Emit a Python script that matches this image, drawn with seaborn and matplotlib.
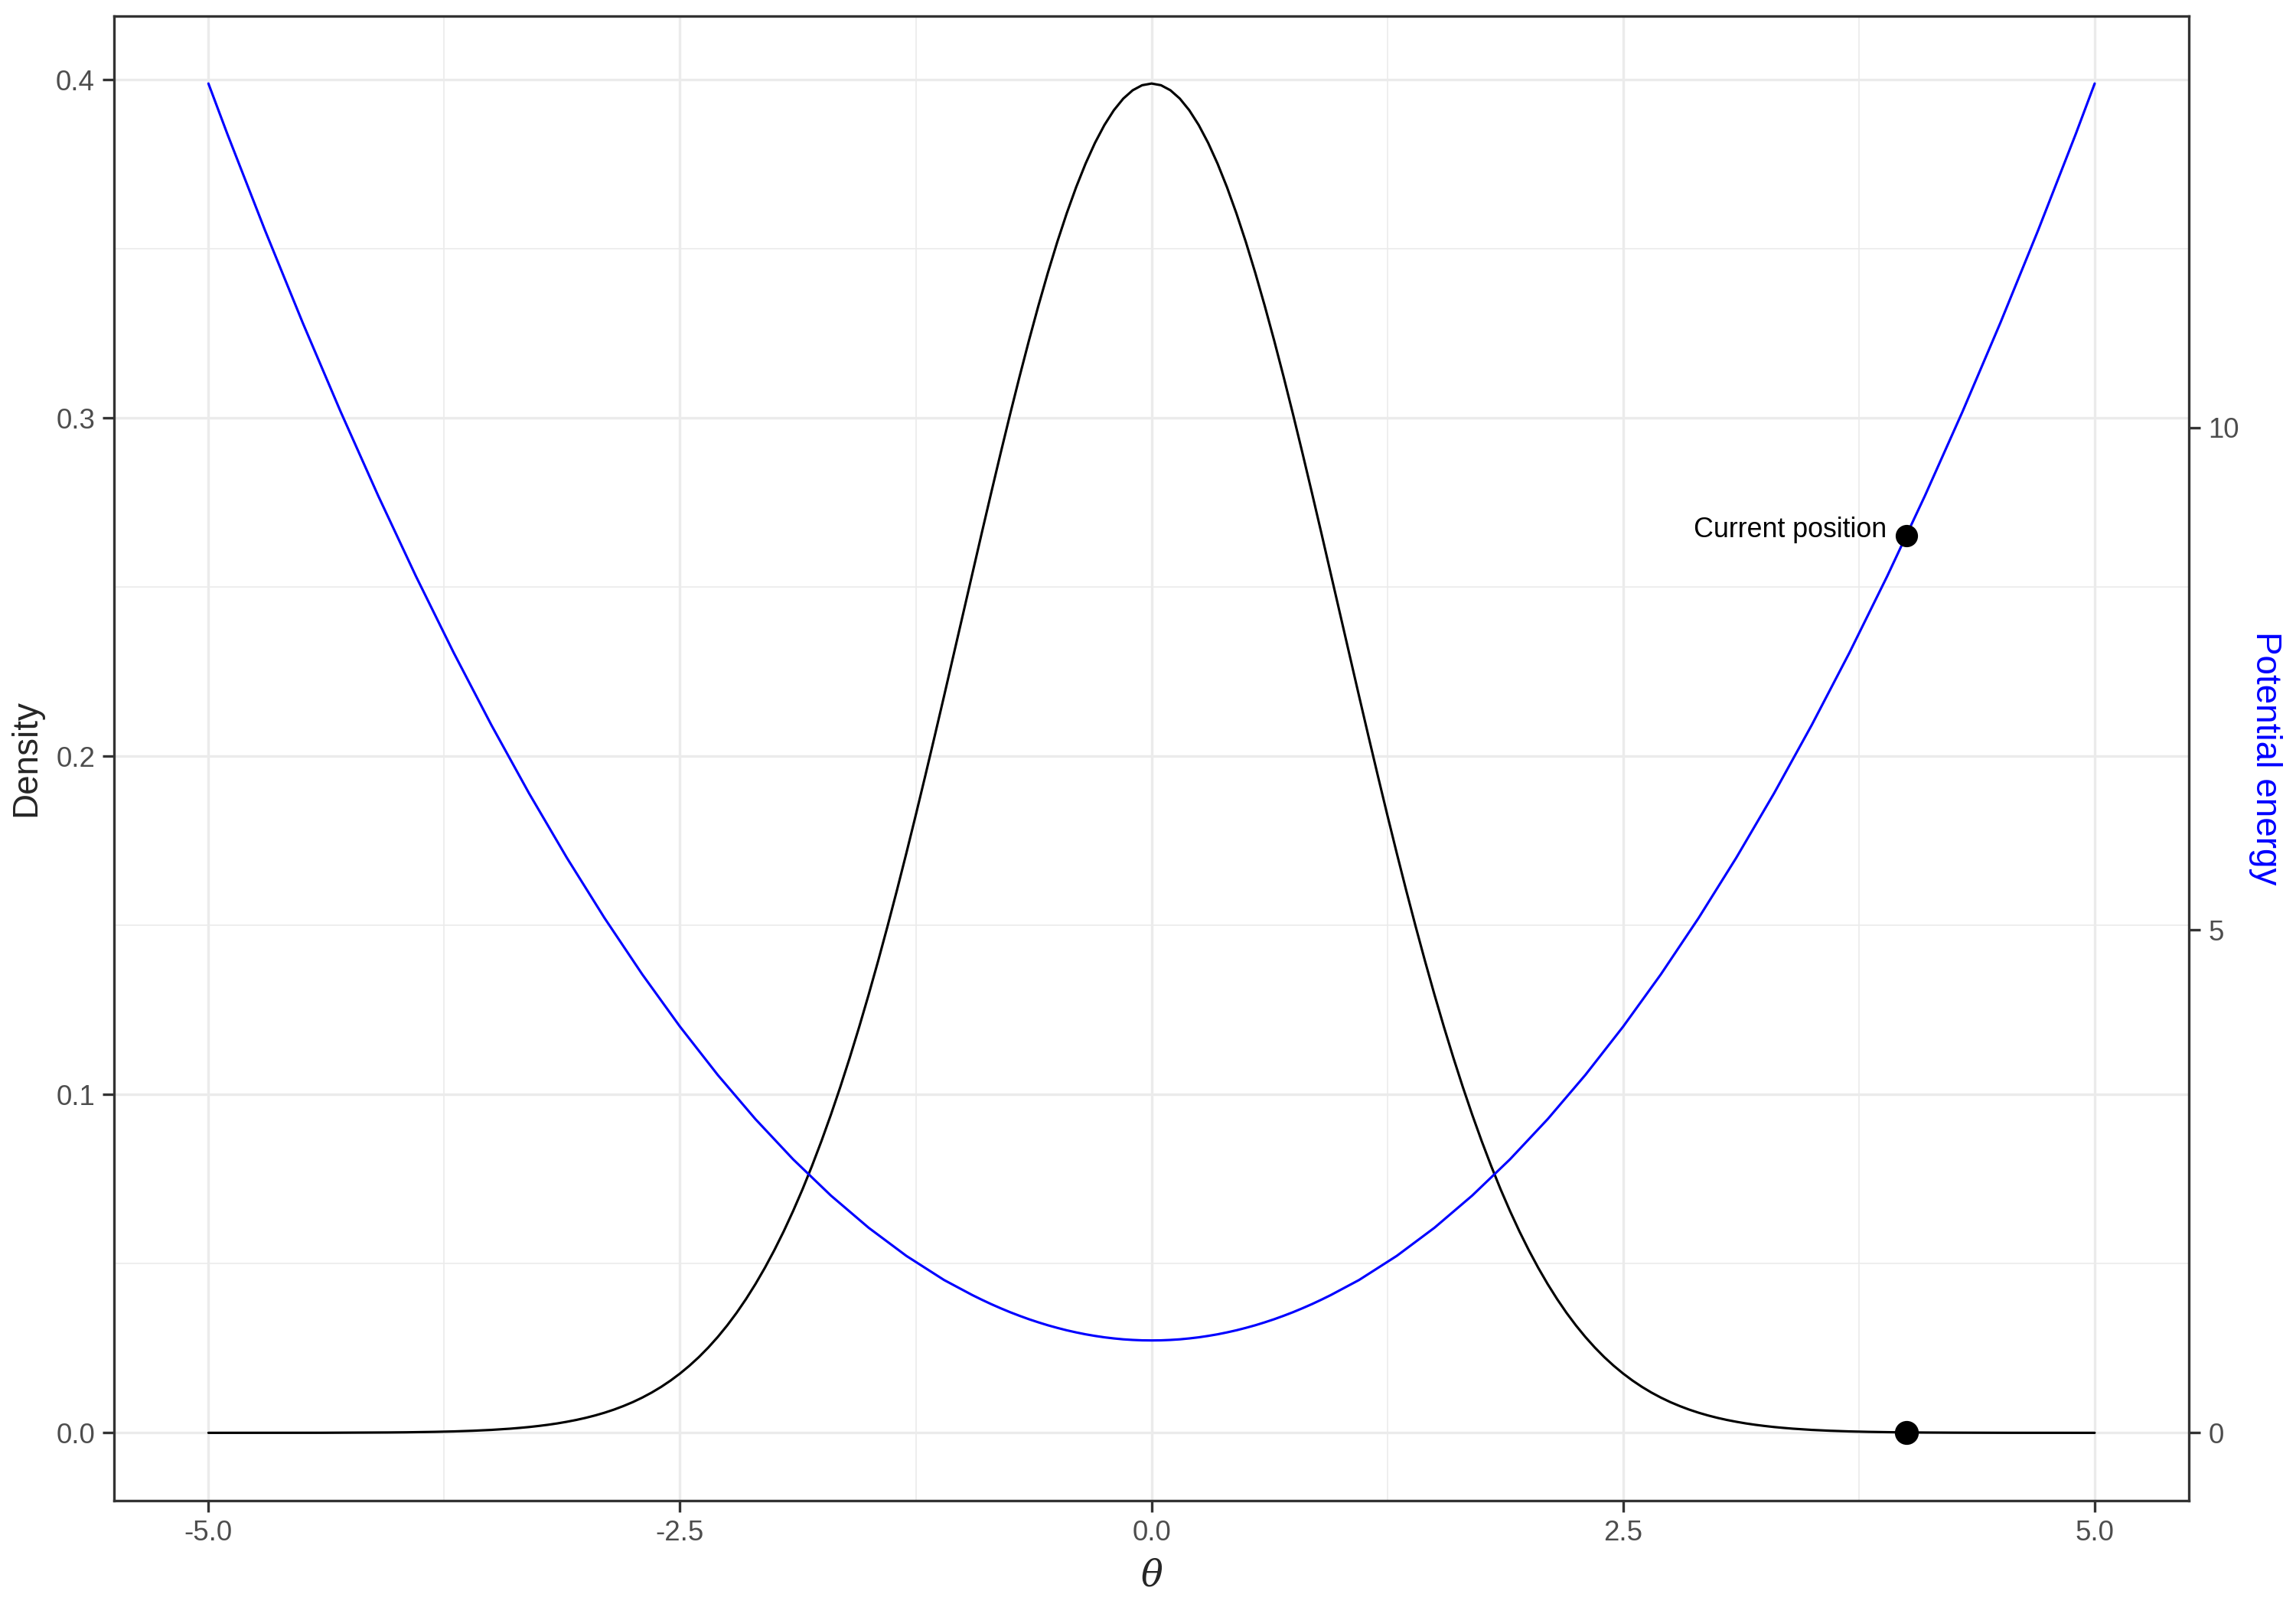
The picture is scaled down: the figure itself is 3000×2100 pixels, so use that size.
import numpy as np
import pandas as pd
import matplotlib
matplotlib.use("Agg")
import matplotlib.pyplot as plt
from matplotlib.ticker import MultipleLocator
import seaborn as sns

# values (theta step 0.05 on 0..5, curves symmetric about 0)
theta_pos = [round(0.05 * i, 2) for i in range(101)]
density_pos = [0.39894, 0.39844, 0.39695, 0.39448, 0.39104, 0.38667, 0.38139, 0.37524,
               0.36827, 0.36053, 0.35207, 0.34294, 0.33322, 0.32297, 0.31225, 0.30114,
               0.28969, 0.27798, 0.26609, 0.25406, 0.24197, 0.22988, 0.21785, 0.20594,
               0.19419, 0.18265, 0.17137, 0.16038, 0.14973, 0.13943, 0.12952, 0.12001,
               0.11092, 0.10227, 0.09405, 0.08628, 0.07895, 0.07206, 0.06562, 0.05959,
               0.05399, 0.04879, 0.04398, 0.03955, 0.03547, 0.03174, 0.02833, 0.02522,
               0.02239, 0.01984, 0.01753, 0.01545, 0.01358, 0.01191, 0.01042, 0.00909,
               0.00792, 0.00687, 0.00595, 0.00514, 0.00443, 0.00381, 0.00327, 0.00279,
               0.00238, 0.00203, 0.00172, 0.00146, 0.00123, 0.00104, 0.00087, 0.00073,
               0.00061, 0.00051, 0.00042, 0.00035, 0.00029, 0.00024, 0.00020, 0.00016,
               0.00013, 0.00011, 0.00009, 0.00007, 0.00006, 0.00005, 0.00004, 0.00003,
               0.00002, 0.00002, 0.00002, 0.00001, 0.00001, 0.00001, 0.00001, 0.0,
               0.0, 0.0, 0.0, 0.0, 0.0]
energy_pos = [0.919, 0.920, 0.924, 0.930, 0.939, 0.950, 0.964, 0.980, 0.999, 1.020,
              1.044, 1.070, 1.099, 1.130, 1.164, 1.200, 1.239, 1.280, 1.324, 1.370,
              1.42, 1.47, 1.52, 1.58,
              1.64, 1.70, 1.76, 1.83, 1.90, 1.97, 2.04, 2.12, 2.20, 2.28, 2.36, 2.45,
              2.54, 2.63, 2.72, 2.82, 2.92, 3.02, 3.12, 3.23, 3.34, 3.45, 3.56, 3.68,
              3.80, 3.92, 4.04, 4.17, 4.30, 4.43, 4.56, 4.70, 4.84, 4.98, 5.12, 5.27,
              5.42, 5.57, 5.72, 5.88, 6.04, 6.20, 6.36, 6.53, 6.70, 6.87, 7.04, 7.22,
              7.40, 7.58, 7.76, 7.95, 8.14, 8.33, 8.52, 8.72, 8.92, 9.12, 9.32, 9.53,
              9.74, 9.95, 10.16, 10.38, 10.60, 10.82, 11.04, 11.27, 11.50, 11.73,
              11.96, 12.20, 12.44, 12.68, 12.92, 13.17, 13.42]

theta = [-t for t in theta_pos[:0:-1]] + theta_pos
density = density_pos[:0:-1] + density_pos
energy = energy_pos[:0:-1] + energy_pos

current_theta = 4.0
current_density = 0.00013
current_energy = 8.92

df = pd.DataFrame({"theta": theta, "density": density, "energy": energy})

sns.set_theme(style="whitegrid")
plt.rcParams["font.family"] = ["Liberation Sans", "DejaVu Sans"]
plt.rcParams["mathtext.fontset"] = "dejavuserif"

fig = plt.figure(figsize=(10, 7), dpi=300)
ax = fig.add_axes([0.0497, 0.0664, 0.9037, 0.9236])

# second axis is a rescaling of the first: max energy maps to max density
scale = max(density) / max(energy)
ylo, yhi = -0.05 * max(density), 1.05 * max(density)

sns.lineplot(data=df, x="theta", y="density", color="black", lw=0.75, ax=ax)
df["energy_scaled"] = df["energy"] * scale
sns.lineplot(data=df, x="theta", y="energy_scaled", color="blue", lw=0.75, ax=ax)
ax.plot([current_theta], [current_density], "o", color="black", ms=6.5, zorder=5)
ax.plot([current_theta], [current_energy * scale], "o", color="black", ms=6, zorder=5)
ax.annotate("Current position", (current_theta, current_energy * scale),
            xytext=(-6, 2), textcoords="offset points", ha="right", va="center",
            fontsize=8.6, color="black")

ax.set_xlim(-5.5, 5.5)
ax.set_ylim(ylo, yhi)
ax.xaxis.set_minor_locator(MultipleLocator(1.25))
ax.yaxis.set_minor_locator(MultipleLocator(0.05))
ax.set_xticks([-5, -2.5, 0, 2.5, 5])
ax.set_xticklabels(["-5.0", "-2.5", "0.0", "2.5", "5.0"])
ax.set_yticks([0, 0.1, 0.2, 0.3, 0.4])
ax.set_yticklabels(["0.0", "0.1", "0.2", "0.3", "0.4"])

ax.grid(which="major", color="#EBEBEB", lw=0.8)
ax.grid(which="minor", color="#EBEBEB", lw=0.4)
ax.set_axisbelow(True)
for s in ax.spines.values():
    s.set_color("#333333")
    s.set_linewidth(0.8)
ax.tick_params(axis="both", which="major", length=3.5, width=0.8, color="#333333",
               labelsize=8.8, labelcolor="#4D4D4D", bottom=True, left=True, pad=2.5)
ax.tick_params(which="minor", length=0)
ax.set_xlabel(r"$\theta$", fontsize=11.5, labelpad=4)
ax.set_ylabel("Density", fontsize=11, labelpad=4)

ax2 = ax.twinx()
ax2.set_ylim(ylo / scale, yhi / scale)
ax2.set_yticks([0, 5, 10])
ax2.grid(False)
for s in ax2.spines.values():
    s.set_visible(False)
ax2.tick_params(axis="y", length=3.5, width=0.8, color="#333333", labelsize=8.8,
                labelcolor="#4D4D4D", right=True, pad=2.5)
ax2.set_ylabel("Potential energy", fontsize=11, color="blue", rotation=-90,
               va="bottom", labelpad=3)

fig.savefig("out.png", dpi=300)
